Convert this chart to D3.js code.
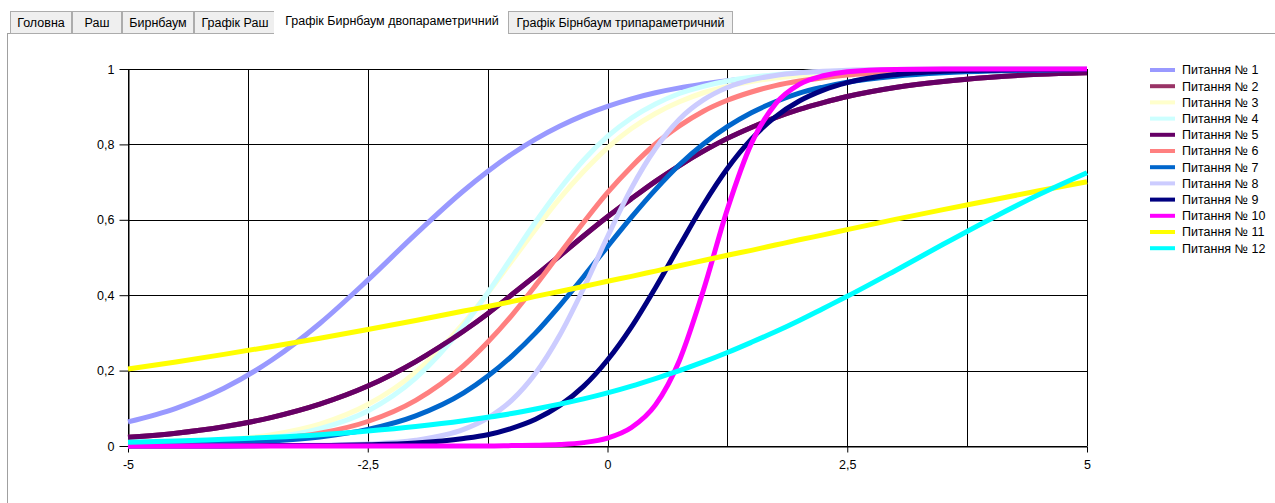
<!DOCTYPE html>
<html><head><meta charset="utf-8">
<script src="https://cdn.jsdelivr.net/npm/d3@7/dist/d3.min.js"></script>
<style>
body{margin:0;background:#fff;overflow:hidden;}
svg{display:block;}
text{font-family:"Liberation Sans",Arial,sans-serif;}
</style>
</head><body>
<svg id="chart" width="1275" height="503"></svg>
<script>
// ---- data ----
const theta = [-5,-4.5,-4,-3.5,-3,-2.5,-2,-1.5,-1.25,-1,-0.75,-0.5,-0.25,0,0.25,0.5,0.75,1,1.25,1.5,1.75,2,2.25,2.5,3,3.5,4,4.5,5];
const item1  = [0.064,0.100,0.153,0.228,0.325,0.440,0.562,0.677,0.728,0.774,0.814,0.848,0.877,0.901,0.921,0.937,0.950,0.960,0.969,0.975,0.981,0.985,0.988,0.991,0.994,0.996,0.998,0.999,0.999];
const item2  = [0.023,0.034,0.051,0.076,0.111,0.159,0.224,0.305,0.351,0.401,0.452,0.504,0.557,0.608,0.656,0.702,0.744,0.782,0.816,0.845,0.871,0.893,0.911,0.927,0.951,0.967,0.978,0.986,0.990];
const item3  = [0.004,0.008,0.016,0.030,0.058,0.110,0.196,0.326,0.405,0.490,0.575,0.656,0.728,0.791,0.842,0.882,0.913,0.937,0.954,0.967,0.976,0.983,0.988,0.991,0.996,0.998,0.999,1,1];
const item4  = [0.002,0.005,0.010,0.022,0.046,0.093,0.180,0.319,0.406,0.500,0.594,0.681,0.758,0.821,0.870,0.907,0.935,0.954,0.968,0.978,0.985,0.990,0.993,0.995,0.998,0.999,1,1,1];
const item5  = [0.023,0.034,0.051,0.076,0.111,0.159,0.224,0.305,0.351,0.401,0.452,0.504,0.557,0.608,0.656,0.702,0.744,0.782,0.816,0.845,0.871,0.893,0.911,0.927,0.951,0.967,0.978,0.986,0.990];
const item6  = [0.002,0.005,0.009,0.018,0.034,0.065,0.121,0.213,0.275,0.346,0.426,0.510,0.593,0.672,0.741,0.801,0.849,0.888,0.917,0.939,0.956,0.968,0.977,0.984,0.992,0.996,0.998,0.999,0.999];
const item7  = [0.002,0.004,0.007,0.013,0.024,0.044,0.080,0.141,0.185,0.238,0.300,0.372,0.449,0.529,0.607,0.680,0.746,0.801,0.847,0.884,0.913,0.936,0.952,0.965,0.981,0.990,0.995,0.997,0.999];
const item8  = [0,0,0,0.001,0.002,0.005,0.015,0.044,0.074,0.121,0.193,0.293,0.418,0.555,0.684,0.789,0.867,0.918,0.951,0.971,0.983,0.990,0.994,0.997,0.999,1,1,1,1];
const item9  = [0,0,0,0.001,0.001,0.003,0.008,0.020,0.030,0.047,0.071,0.107,0.158,0.228,0.316,0.420,0.531,0.640,0.736,0.814,0.873,0.915,0.944,0.964,0.985,0.994,0.997,0.999,0.999];
const item10 = [0,0,0,0,0,0,0,0,0,0.001,0.002,0.004,0.009,0.021,0.049,0.109,0.227,0.413,0.628,0.802,0.907,0.959,0.982,0.993,0.999,1,1,1,1];
const item11 = [0.204,0.223,0.243,0.264,0.286,0.309,0.333,0.358,0.370,0.383,0.397,0.410,0.423,0.437,0.450,0.464,0.478,0.492,0.506,0.519,0.533,0.547,0.560,0.574,0.601,0.627,0.652,0.677,0.701];
const item12 = [0.010,0.013,0.018,0.023,0.030,0.040,0.052,0.067,0.076,0.086,0.098,0.111,0.125,0.141,0.159,0.179,0.200,0.223,0.248,0.275,0.303,0.333,0.365,0.397,0.465,0.535,0.603,0.667,0.725];

const seriesNames = ["Питання № 1","Питання № 2","Питання № 3","Питання № 4","Питання № 5","Питання № 6","Питання № 7","Питання № 8","Питання № 9","Питання № 10","Питання № 11","Питання № 12"];
const seriesColors = ["#9999FF","#993366","#FFFFCC","#CCFFFF","#660066","#FF8080","#0066CC","#CCCCFF","#000080","#FF00FF","#FFFF00","#00FFFF"];
const xTickValues = [-5,-2.5,0,2.5,5];
const xTickLabels = ["-5","-2,5","0","2,5","5"];
const xGridValues = [-5,-3.75,-2.5,-1.25,0,1.25,2.5,3.75,5];
const yTickValues = [0,0.2,0.4,0.6,0.8,1];
const yTickLabels = ["0","0,2","0,4","0,6","0,8","1"];
const tabLabels = ["Головна","Раш","Бирнбаум","Графік Раш","Графік Бирнбаум двопараметричний","Графік Бірнбаум трипараметричний"];
const selectedTab = 4;

const seriesValues = [item1,item2,item3,item4,item5,item6,item7,item8,item9,item10,item11,item12];

// ---- layout ----
const svg = d3.select("#chart");
const W = 1275, H = 503;

// tab strip
const tabEdges = [10,72,122,194,276,508,733];
const tabG = svg.append("g");
tabG.append("line").attr("x1",7.5).attr("x2",7.5).attr("y1",33).attr("y2",H).attr("stroke","#a0a0a0");
tabG.append("line").attr("x1",7).attr("x2",W).attr("y1",33.5).attr("y2",33.5).attr("stroke","#a0a0a0");
tabLabels.forEach((t,i)=>{
  const x0 = tabEdges[i], x1 = tabEdges[i+1];
  if(i===selectedTab){
    tabG.append("rect").attr("x",x0-2).attr("y",9).attr("width",x1-x0+4).attr("height",26).attr("fill","#fff");
    tabG.append("text").attr("x",(x0+x1)/2).attr("y",25).attr("text-anchor","middle").attr("font-size",12.5).attr("fill","#000").text(t);
  } else {
    tabG.append("rect").attr("x",x0+0.5).attr("y",11.5).attr("width",x1-x0-1).attr("height",22).attr("fill","#efefef").attr("stroke","#acacac");
    tabG.append("text").attr("x",(x0+x1)/2).attr("y",27).attr("text-anchor","middle").attr("font-size",12.5).attr("fill","#000").text(t);
  }
});

// plot
const x = d3.scaleLinear().domain([-5,5]).range([128,1087]);
const y = d3.scaleLinear().domain([0,1]).range([446,69]);

const grid = svg.append("g");
xGridValues.forEach(v=>{
  const px = Math.round(x(v))+0.5;
  grid.append("line").attr("x1",px).attr("x2",px).attr("y1",y(1)).attr("y2",y(0)).attr("stroke","#000").attr("stroke-width",1);
});
yTickValues.forEach(v=>{
  const py = Math.round(y(v))+0.5;
  grid.append("line").attr("x1",x(-5)).attr("x2",x(5)).attr("y1",py).attr("y2",py).attr("stroke","#000").attr("stroke-width",1);
});

const xAxis = svg.append("g").attr("transform",`translate(0,${Math.round(y(0))+0.5})`)
  .call(d3.axisBottom(x).tickValues(xTickValues).tickFormat((d,i)=>xTickLabels[i]).tickSize(6).tickSizeOuter(0));
const yAxis = svg.append("g").attr("transform",`translate(${Math.round(x(-5))+0.5},0)`)
  .call(d3.axisLeft(y).tickValues(yTickValues).tickFormat((d,i)=>yTickLabels[i]).tickSize(9).tickSizeOuter(0));
[xAxis,yAxis].forEach(a=>{
  a.selectAll("path").attr("stroke","#000");
  a.selectAll("line").attr("stroke","#000");
  a.selectAll("text").attr("font-size",12.5).attr("fill","#000").style("font-family","'Liberation Sans',Arial,sans-serif");
});
xAxis.selectAll("text").attr("dy","0.9em").attr("y",11);
yAxis.selectAll("text").attr("x",-14);

// curves
const line = d3.line().x((d,i)=>x(theta[i])).y(d=>y(d)).curve(d3.curveMonotoneX);
const curves = svg.append("g");
seriesValues.forEach((vals,i)=>{
  curves.append("path").attr("d",line(vals)).attr("fill","none")
    .attr("stroke",seriesColors[i]).attr("stroke-width",5).attr("stroke-linejoin","round");
});

// legend
const legend = svg.append("g");
seriesNames.forEach((n,i)=>{
  const cy = 70 + i*16.2;
  legend.append("line").attr("x1",1150).attr("x2",1175).attr("y1",cy).attr("y2",cy)
    .attr("stroke",seriesColors[i]).attr("stroke-width",4);
  legend.append("text").attr("x",1182).attr("y",cy).attr("dy","0.35em").attr("font-size",12.5).attr("fill","#000").text(n);
});
</script>
</body></html>
